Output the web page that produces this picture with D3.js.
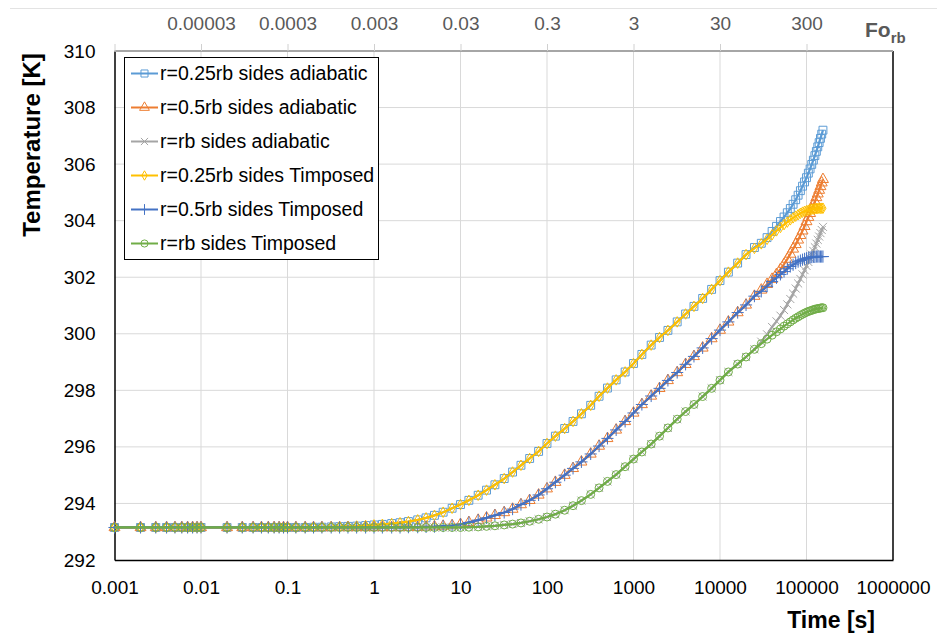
<!DOCTYPE html>
<html lang="en">
<head>
  <meta charset="UTF-8">
  <title>Temperature vs time</title>
  <script src="https://d3js.org/d3.v7.min.js"></script>
  <style>
    body { margin: 0; background: #fff; font-family: "Liberation Sans", Arial, sans-serif; }
    .tick text { font-family: "Liberation Sans", Arial, sans-serif; }
  </style>
</head>
<body>
  <div id="chart"></div>
  <script>
    // Time points [s], shared by all series
    const times = [0.001,0.002,0.003,0.004,0.005,0.006,0.007,0.008,0.009,0.01,
      0.02,0.03,0.04,0.05,0.06,0.07,0.08,0.09,0.1,
      0.125,0.16,0.2,0.25,0.32,0.4,0.5,0.63,0.8,1,
      1.25,1.6,2,2.5,3.2,4,5,6.3,8,10,
      12.5,16,20,25,32,40,50,63,80,100,
      125,160,200,250,320,400,500,630,800,1000,
      1250,1600,2000,2500,3200,4000,5000,6300,8000,10000,
      12500,16000,20000,25000,
      30000,35000,40000,45000,50000,55000,60000,65000,70000,75000,80000,85000,90000,95000,100000,
      105000,110000,115000,120000,125000,130000,135000,140000,145000,150000,155000];

    // Temperatures [K]
    const r025Adiabatic = [293.15,293.15,293.15,293.15,293.15,293.15,293.15,293.15,293.15,293.15,
      293.15,293.15,293.15,293.15,293.15,293.15,293.15,293.15,293.15,
      293.15,293.15,293.16,293.16,293.17,293.18,293.19,293.2,293.22,293.24,
      293.26,293.29,293.32,293.36,293.42,293.49,293.58,293.69,293.83,293.96,
      294.11,294.29,294.47,294.66,294.88,295.11,295.35,295.59,295.84,296.12,
      296.38,296.65,296.9,297.17,297.47,297.79,298.08,298.37,298.65,298.95,
      299.27,299.6,299.87,300.12,300.42,300.7,300.97,301.25,301.57,301.88,
      302.18,302.5,302.8,303.05,
      303.2,303.4,303.62,303.8,303.97,304.13,304.28,304.43,304.58,304.74,304.9,305.06,305.22,305.37,305.52,
      305.68,305.83,305.99,306.14,306.3,306.45,306.61,306.76,306.91,307.06,307.2];

    const r05Adiabatic = [293.15,293.15,293.15,293.15,293.15,293.15,293.15,293.15,293.15,293.15,
      293.15,293.15,293.15,293.15,293.15,293.15,293.15,293.15,293.15,
      293.15,293.15,293.15,293.15,293.15,293.15,293.15,293.15,293.15,293.15,
      293.15,293.15,293.15,293.16,293.16,293.17,293.18,293.2,293.22,293.26,
      293.33,293.41,293.49,293.58,293.68,293.8,293.96,294.11,294.3,294.52,
      294.75,295.0,295.24,295.47,295.75,296.03,296.3,296.6,296.9,297.2,
      297.5,297.8,298.07,298.35,298.63,298.92,299.2,299.5,299.83,300.13,
      300.42,300.75,301.02,301.33,
      301.55,301.75,301.93,302.1,302.28,302.46,302.64,302.82,303.0,303.16,303.32,303.48,303.64,303.8,303.97,
      304.12,304.26,304.4,304.54,304.68,304.82,304.95,305.08,305.21,305.34,305.46];

    const rbAdiabatic = [293.15,293.15,293.15,293.15,293.15,293.15,293.15,293.15,293.15,293.15,
      293.15,293.15,293.15,293.15,293.15,293.15,293.15,293.15,293.15,
      293.15,293.15,293.15,293.15,293.15,293.15,293.15,293.15,293.15,293.15,
      293.15,293.15,293.15,293.15,293.15,293.15,293.15,293.15,293.15,293.15,
      293.16,293.17,293.19,293.21,293.24,293.27,293.31,293.37,293.44,293.52,
      293.62,293.76,293.92,294.1,294.32,294.55,294.78,295.02,295.3,295.57,
      295.82,296.1,296.38,296.67,296.98,297.25,297.5,297.78,298.07,298.36,
      298.65,298.93,299.18,299.45,
      299.72,299.98,300.24,300.44,300.64,300.84,301.04,301.23,301.42,301.6,301.78,301.94,302.1,302.25,302.4,
      302.54,302.67,302.8,302.93,303.06,303.19,303.32,303.44,303.56,303.67,303.78];

    const r025Timposed = [293.15,293.15,293.15,293.15,293.15,293.15,293.15,293.15,293.15,293.15,
      293.15,293.15,293.15,293.15,293.15,293.15,293.15,293.15,293.15,
      293.15,293.15,293.16,293.16,293.17,293.18,293.19,293.2,293.22,293.24,
      293.26,293.29,293.32,293.36,293.42,293.49,293.58,293.69,293.83,293.96,
      294.11,294.29,294.47,294.66,294.88,295.11,295.35,295.59,295.84,296.12,
      296.38,296.65,296.9,297.17,297.47,297.79,298.08,298.37,298.65,298.95,
      299.27,299.6,299.87,300.12,300.42,300.7,300.97,301.25,301.57,301.88,
      302.18,302.5,302.8,303.02,
      303.18,303.34,303.5,303.64,303.76,303.86,303.95,304.03,304.1,304.16,304.21,304.26,304.3,304.33,304.35,
      304.37,304.39,304.4,304.41,304.42,304.43,304.43,304.44,304.44,304.44,304.44];

    const r05Timposed = [293.15,293.15,293.15,293.15,293.15,293.15,293.15,293.15,293.15,293.15,
      293.15,293.15,293.15,293.15,293.15,293.15,293.15,293.15,293.15,
      293.15,293.15,293.15,293.15,293.15,293.15,293.15,293.15,293.15,293.15,
      293.15,293.15,293.15,293.16,293.16,293.17,293.18,293.2,293.22,293.26,
      293.33,293.41,293.49,293.58,293.68,293.8,293.96,294.11,294.3,294.52,
      294.75,295.0,295.24,295.47,295.75,296.03,296.3,296.6,296.9,297.2,
      297.5,297.8,298.07,298.35,298.63,298.92,299.2,299.5,299.83,300.13,
      300.42,300.75,301.02,301.33,
      301.5,301.68,301.85,301.98,302.1,302.2,302.3,302.38,302.44,302.5,302.55,302.59,302.62,302.65,302.67,
      302.69,302.7,302.71,302.72,302.72,302.73,302.73,302.73,302.73,302.73,302.73];

    const rbTimposed = [293.15,293.15,293.15,293.15,293.15,293.15,293.15,293.15,293.15,293.15,
      293.15,293.15,293.15,293.15,293.15,293.15,293.15,293.15,293.15,
      293.15,293.15,293.15,293.15,293.15,293.15,293.15,293.15,293.15,293.15,
      293.15,293.15,293.15,293.15,293.15,293.15,293.15,293.15,293.15,293.15,
      293.16,293.17,293.19,293.21,293.24,293.27,293.31,293.37,293.44,293.52,
      293.62,293.76,293.92,294.1,294.32,294.55,294.78,295.02,295.3,295.57,
      295.82,296.1,296.38,296.67,296.98,297.25,297.5,297.78,298.07,298.36,
      298.65,298.93,299.18,299.45,
      299.65,299.81,299.95,300.07,300.17,300.27,300.35,300.42,300.49,300.55,300.6,300.65,300.69,300.73,300.76,
      300.79,300.81,300.83,300.85,300.87,300.88,300.89,300.9,300.91,300.92,300.92];

    const seriesNames = ["r=0.25rb sides adiabatic", "r=0.5rb sides adiabatic", "r=rb sides adiabatic",
      "r=0.25rb sides Timposed", "r=0.5rb sides Timposed", "r=rb sides Timposed"];

    // Axis ticks
    const xTickValues = [0.001, 0.01, 0.1, 1, 10, 100, 1000, 10000, 100000, 1000000];
    const xTickLabels = ["0.001", "0.01", "0.1", "1", "10", "100", "1000", "10000", "100000", "1000000"];
    const yTickValues = [292, 294, 296, 298, 300, 302, 304, 306, 308, 310];
    const foTickValues = [0.001, 0.01, 0.1, 1, 10, 100, 1000, 10000, 100000];
    const foTickLabels = ["", "0.00003", "0.0003", "0.003", "0.03", "0.3", "3", "30", "300"];

    const seriesData = [r025Adiabatic, r05Adiabatic, rbAdiabatic, r025Timposed, r05Timposed, rbTimposed];
    const colors = ["#5B9BD5", "#ED7D31", "#A5A5A5", "#FFC000", "#4472C4", "#70AD47"];
    const symbols = [d3.symbolSquare, d3.symbolTriangle, d3.symbolX, d3.symbolDiamond, d3.symbolPlus, d3.symbolCircle];
    const symbolSizes = [62, 52, 44, 32, 50, 50];

    const W = 937, H = 634;
    const plotLeft = 114.5, plotRight = 893, plotTop = 51, plotBottom = 560;

    const svg = d3.select("#chart").append("svg")
      .attr("width", W)
      .attr("height", H);

    const x = d3.scaleLog().domain([0.001, 1000000]).range([plotLeft, plotRight]);
    const y = d3.scaleLinear().domain([292, 310]).range([plotBottom, plotTop]);

    // faint chart-area edge at the top
    svg.append("line")
      .attr("x1", 10).attr("x2", W).attr("y1", 8.5).attr("y2", 8.5)
      .attr("stroke", "#e3e3e3").attr("stroke-width", 1);

    // gridlines
    svg.append("g")
      .selectAll("line")
      .data(xTickValues.slice(1, -1))
      .enter().append("line")
      .attr("x1", d => x(d)).attr("x2", d => x(d))
      .attr("y1", plotTop).attr("y2", plotBottom)
      .attr("stroke", "#d9d9d9").attr("stroke-width", 1);

    svg.append("g")
      .selectAll("line")
      .data(yTickValues.slice(1, -1))
      .enter().append("line")
      .attr("x1", plotLeft).attr("x2", plotRight)
      .attr("y1", d => y(d)).attr("y2", d => y(d))
      .attr("stroke", "#d9d9d9").attr("stroke-width", 1);

    // bottom axis
    const xAxis = svg.append("g")
      .attr("transform", `translate(0,${plotBottom})`)
      .call(d3.axisBottom(x).tickValues(xTickValues)
        .tickFormat((d, i) => xTickLabels[i]).tickSize(0).tickPadding(21));
    xAxis.select(".domain").attr("stroke", "#000").attr("stroke-width", 1.5);
    xAxis.selectAll(".tick text").style("font-size", "19px").attr("fill", "#000");

    // left axis
    const yAxis = svg.append("g")
      .attr("transform", `translate(${plotLeft},0)`)
      .call(d3.axisLeft(y).tickValues(yTickValues).tickSize(0).tickPadding(19));
    yAxis.select(".domain").attr("stroke", "#000").attr("stroke-width", 1.5);
    yAxis.selectAll(".tick text").style("font-size", "19px").attr("fill", "#000");

    // right border
    svg.append("line")
      .attr("x1", plotRight).attr("x2", plotRight).attr("y1", plotTop).attr("y2", plotBottom)
      .attr("stroke", "#000").attr("stroke-width", 1.5);

    // top Fourier number axis
    const topAxis = svg.append("g")
      .attr("transform", `translate(0,${plotTop})`)
      .call(d3.axisTop(x).tickValues(foTickValues)
        .tickFormat((d, i) => foTickLabels[i]).tickSize(7).tickSizeOuter(0).tickPadding(14));
    topAxis.select(".domain").attr("stroke", "#a6a6a6").attr("stroke-width", 2)
      .attr("d", `M${plotLeft},0H${plotRight}`);
    topAxis.selectAll(".tick line").attr("stroke", "#d0d0d0");
    topAxis.selectAll(".tick text").style("font-size", "19px").attr("fill", "#595959");

    const fo = svg.append("text")
      .attr("x", 865).attr("y", 37)
      .attr("fill", "#595959")
      .style("font-size", "21px").style("font-weight", "bold");
    fo.append("tspan").text("Fo");
    fo.append("tspan").attr("dy", 6).style("font-size", "15px").text("rb");

    // series
    const line = d3.line()
      .x(d => x(d[0]))
      .y(d => y(d[1]));

    seriesData.forEach((vals, k) => {
      const pts = times.map((t, i) => [t, vals[i]]);
      const g = svg.append("g");
      g.append("path")
        .datum(pts)
        .attr("d", line)
        .attr("fill", "none")
        .attr("stroke", colors[k])
        .attr("stroke-width", 2.25);
      g.selectAll("path.m")
        .data(pts)
        .enter().append("path")
        .attr("class", "m")
        .attr("transform", d => `translate(${x(d[0])},${y(d[1])})`)
        .attr("d", d3.symbol().type(symbols[k]).size(symbolSizes[k]))
        .attr("fill", "none")
        .attr("stroke", colors[k])
        .attr("stroke-width", 1);
    });

    // legend
    const legend = svg.append("g");
    legend.append("rect")
      .attr("x", 124.5).attr("y", 57.5).attr("width", 254).attr("height", 202)
      .attr("fill", "#fff").attr("stroke", "#000").attr("stroke-width", 1);

    const item = legend.selectAll(".item")
      .data(seriesNames)
      .enter().append("g")
      .attr("class", "item")
      .attr("transform", (d, i) => `translate(0,${73.5 + i * 34})`);
    item.append("line")
      .attr("x1", 131).attr("x2", 158).attr("y1", 0).attr("y2", 0)
      .attr("stroke", (d, i) => colors[i]).attr("stroke-width", 2);
    item.append("path")
      .attr("transform", "translate(144.5,0)")
      .attr("d", (d, i) => d3.symbol().type(symbols[i]).size(symbolSizes[i] * 0.8)())
      .attr("fill", "none")
      .attr("stroke", (d, i) => colors[i]).attr("stroke-width", 1);
    item.append("text")
      .attr("x", 160).attr("y", 0).attr("dy", "0.35em")
      .style("font-size", "19.5px").attr("fill", "#000")
      .text(d => d);

    // axis titles
    svg.append("text")
      .attr("transform", "translate(40,145) rotate(-90)")
      .attr("text-anchor", "middle")
      .style("font-size", "24px").style("font-weight", "bold")
      .text("Temperature [K]");

    svg.append("text")
      .attr("x", 875).attr("y", 628)
      .attr("text-anchor", "end")
      .style("font-size", "23px").style("font-weight", "bold")
      .text("Time [s]");
  </script>
</body>
</html>
